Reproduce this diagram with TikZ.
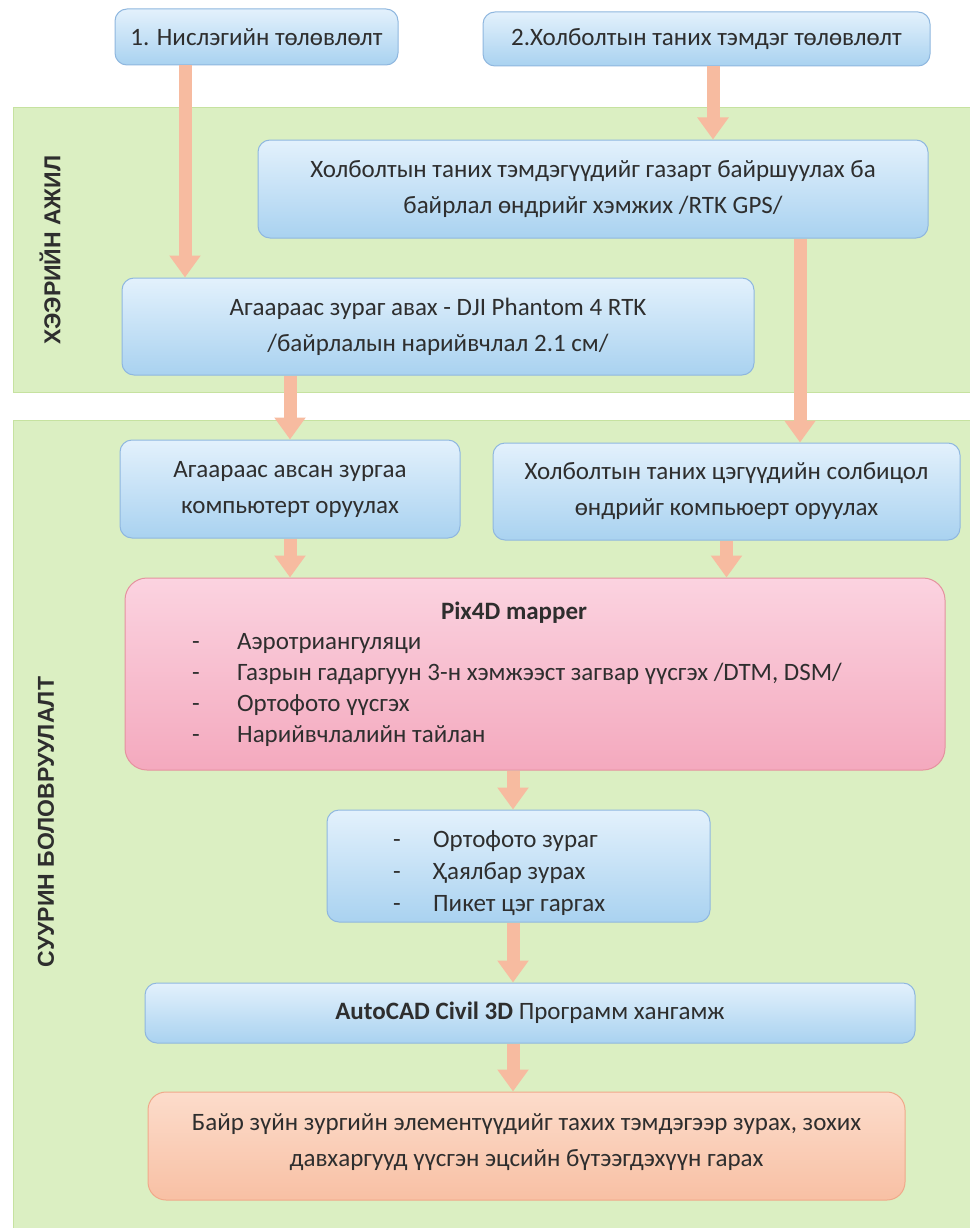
\documentclass[tikz,border=0pt]{standalone}
\usepackage{fontspec}
\setmainfont{Carlito}
\newfontfamily\bandfont{Liberation Sans}
\usetikzlibrary{arrows.meta}
\definecolor{bandfill}{HTML}{DBEFC2}
\definecolor{bandline}{HTML}{C6E2A0}
\definecolor{bluetop}{HTML}{E3F1FC}
\definecolor{bluebot}{HTML}{A9D2F0}
\definecolor{blueline}{HTML}{8FB7DF}
\definecolor{pinktop}{HTML}{FBD3E0}
\definecolor{pinkbot}{HTML}{F4A9BE}
\definecolor{pinkline}{HTML}{E5929F}
\definecolor{orgtop}{HTML}{FCDCCB}
\definecolor{orgbot}{HTML}{F8C0A4}
\definecolor{orgline}{HTML}{F0A98A}
\definecolor{arrowcol}{HTML}{F7BBA0}
\definecolor{txt}{HTML}{2E2E2E}
\tikzset{
  band/.style={fill=bandfill, draw=bandline, line width=1pt},
  bandlabel/.style={rotate=90, font=\bandfont\bfseries\fontsize{23}{26}\selectfont, text=txt},
  bluebox/.style={rectangle, rounded corners=12pt, top color=bluetop, bottom color=bluebot, draw=blueline, line width=1pt, align=center, text=txt, font=\fontsize{25}{36}\selectfont, inner sep=0pt},
  pinkbox/.style={rectangle, rounded corners=22pt, top color=pinktop, bottom color=pinkbot, draw=pinkline, line width=1pt, inner sep=0pt},
  orgbox/.style={rectangle, rounded corners=18pt, top color=orgtop, bottom color=orgbot, draw=orgline, line width=1pt, inner sep=0pt},
  listtext/.style={anchor=west, text=txt, align=left, inner sep=0pt},
  flow/.style={draw=arrowcol, line width=13pt, -{Triangle[width=30pt,length=22pt]}, arrowcol}
}
\begin{document}
\begin{tikzpicture}[x=1pt,y=-1pt]
\useasboundingbox (0,0) rectangle (969,1228);
\fill[white] (0,0) rectangle (969,1228);
% bands
\draw[band] (13,108) rectangle (975,392);
\draw[band] (13,420) rectangle (975,1235);
\node[bandlabel] (lab1) at (50,250) {ХЭЭРИЙН АЖИЛ};
\node[bandlabel] (lab2) at (46,822) {СУУРИН БОЛОВРУУЛАЛТ};
% boxes
\node[bluebox, minimum width=283pt, minimum height=56pt] (b1) at (256.5,37) {1. Нислэгийн төлөвлөлт};
\node[bluebox, minimum width=447pt, minimum height=54pt] (b2) at (706.5,39) {2.Холболтын таних тэмдэг төлөвлөлт};
\node[bluebox, minimum width=670pt, minimum height=98pt] (b3) at (593,189) {Холболтын таних тэмдэгүүдийг газарт байршуулах ба\\байрлал өндрийг хэмжих /RTK GPS/};
\node[bluebox, minimum width=632pt, minimum height=97pt] (b4) at (438,326.5) {Агаараас зураг авах - DJI Phantom 4 RTK\\/байрлалын нарийвчлал 2.1 см/};
\node[bluebox, minimum width=340pt, minimum height=98pt] (b5) at (290,489) {Агаараас авсан зургаа\\компьютерт оруулах};
\node[bluebox, minimum width=467pt, minimum height=97pt] (b6) at (726.5,491.5) {Холболтын таних цэгүүдийн солбицол\\өндрийг компьюерт оруулах};
\node[pinkbox, minimum width=820pt, minimum height=192pt] (p) at (535,674) {};
\node[font=\bfseries\fontsize{25}{30}\selectfont, text=txt] (ptitle) at (514,613) {Pix4D mapper};
\node[listtext, font=\fontsize{25}{31}\selectfont] (plist) at (192,690)
  {\makebox[45pt][l]{-}Аэротриангуляци\\
   \makebox[45pt][l]{-}Газрын гадаргуун 3-н хэмжээст загвар үүсгэх /DTM, DSM/\\
   \makebox[45pt][l]{-}Ортофото үүсгэх\\
   \makebox[45pt][l]{-}Нарийвчлалийн тайлан};
\node[bluebox, minimum width=383pt, minimum height=112pt] (b7) at (518.5,866) {};
\node[listtext, font=\fontsize{25}{32}\selectfont] (b7list) at (393,873)
  {\makebox[40pt][l]{-}Ортофото зураг\\
   \makebox[40pt][l]{-}Ҳаялбар зурах\\
   \makebox[40pt][l]{-}Пикет цэг гаргах};
\node[bluebox, minimum width=770pt, minimum height=60pt] (b8) at (530,1013) {\textbf{AutoCAD Civil 3D} Программ хангамж};
\node[orgbox, minimum width=757pt, minimum height=108pt] (b9) at (526.5,1146) {};
\node[text=txt, align=center, font=\fontsize{25}{36}\selectfont, inner sep=0pt] (b9text) at (526.5,1142) {Байр зүйн зургийн элементүүдийг тахих тэмдэгээр зурах, зохих\\давхаргууд үүсгэн эцсийн бүтээгдэхүүн гарах};
% arrows
\draw[flow] ([xshift=-71.5pt]b1.south) -- ([xshift=-71.5pt]b1.south |- b4.north);
\draw[flow] ([xshift=6.5pt]b2.south) -- ([xshift=6.5pt]b2.south |- b3.north);
\draw[flow] ([xshift=207pt]b3.south) -- ([xshift=207pt]b3.south |- b6.north);
\draw[flow] ([xshift=-148pt]b4.south) -- ([xshift=-148pt]b4.south |- b5.north);
\draw[flow] (b5.south) -- (b5.south |- p.north);
\draw[flow] (b6.south) -- (b6.south |- p.north);
\draw[flow] ([xshift=-22pt]p.south) -- ([xshift=-22pt]p.south |- b7.north);
\draw[flow] ([xshift=-5.5pt]b7.south) -- ([xshift=-5.5pt]b7.south |- b8.north);
\draw[flow] ([xshift=-17pt]b8.south) -- ([xshift=-17pt]b8.south |- b9.north);
\end{tikzpicture}
\end{document}
